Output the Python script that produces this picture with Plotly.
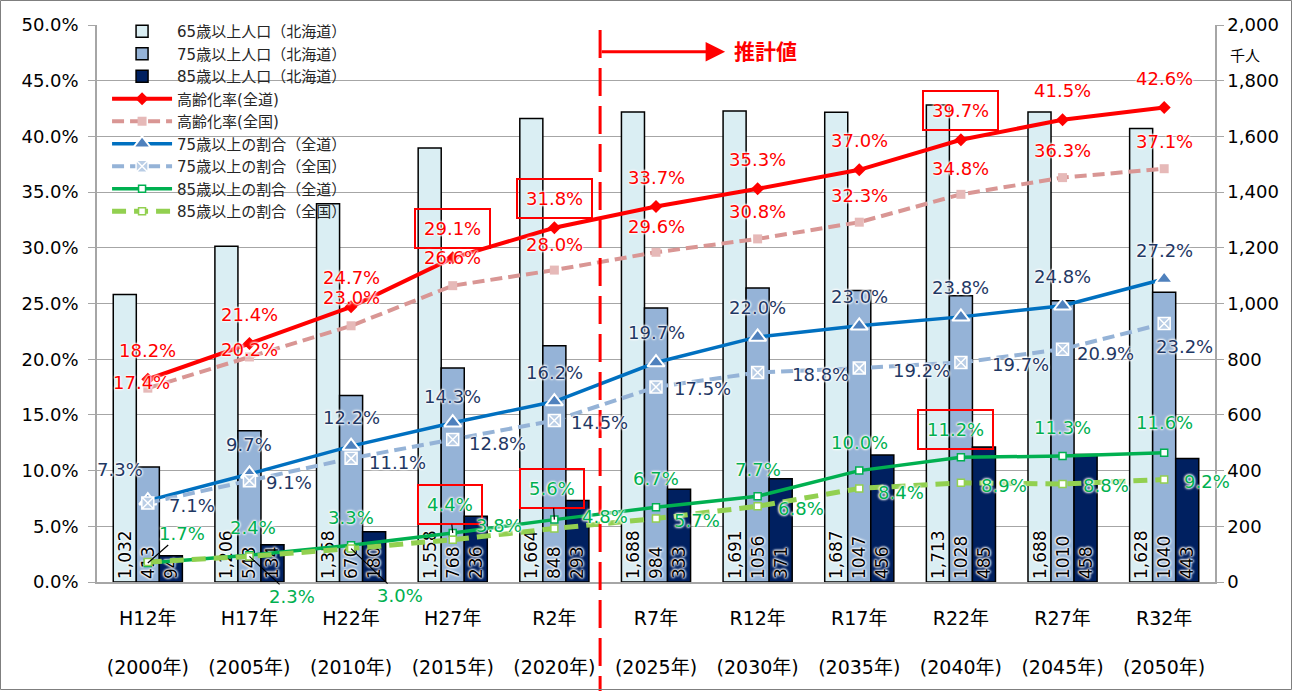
import plotly.graph_objects as go

# ---------------- data ----------------
categories = ["H12年", "H17年", "H22年", "H27年", "R2年", "R7年", "R12年", "R17年", "R22年", "R27年", "R32年"]
years = ["(2000年)", "(2005年)", "(2010年)", "(2015年)", "(2020年)", "(2025年)", "(2030年)",
         "(2035年)", "(2040年)", "(2045年)", "(2050年)"]

pop65 = [1032, 1206, 1358, 1558, 1664, 1688, 1691, 1687, 1713, 1688, 1628]
pop75 = [413, 543, 670, 768, 848, 984, 1056, 1047, 1028, 1010, 1040]
pop85 = [94, 134, 180, 236, 293, 333, 371, 456, 485, 458, 443]

aging_hok = [18.2, 21.4, 24.7, 29.1, 31.8, 33.7, 35.3, 37.0, 39.7, 41.5, 42.6]
aging_nat = [17.4, 20.2, 23.0, 26.6, 28.0, 29.6, 30.8, 32.3, 34.8, 36.3, 37.1]
r75_hok = [7.3, 9.7, 12.2, 14.3, 16.2, 19.7, 22.0, 23.0, 23.8, 24.8, 27.2]
r75_nat = [7.1, 9.1, 11.1, 12.8, 14.5, 17.5, 18.8, 19.2, 19.7, 20.9, 23.2]
r85_hok = [1.7, 2.4, 3.3, 4.4, 5.6, 6.7, 7.7, 10.0, 11.2, 11.3, 11.6]
r85_nat = [1.8, 2.3, 3.0, 3.8, 4.8, 5.7, 6.8, 8.4, 8.9, 8.8, 9.2]

# ---------------- label styling (pixel offsets) ----------------
off_aging_hok = [(0, 29)] * 11
off_aging_nat = [(-6, 6), (0, 7), (0, 28), (0, 28), (0, 26), (0, 26), (0, 27), (0, 27), (0, 26), (0, 27), (0, 27)]
off_r75_hok = [(-28, 31), (0, 29), (0, 29), (0, 26), (0, 29), (0, 30), (0, 29), (0, 29), (0, 29), (0, 29), (0, 28)]
off_r75_nat = [(44, -3), (40, -2), (46, -4), (45, -4), (45, -2), (46, -1), (63, -2), (62, -2), (60, -2), (43, -4), (20, -23)]
off_r85_hok = [(34, 30), (4, 28), (0, 28), (-3, 28), (-2, 31), (0, 29), (0, 27), (0, 28), (-5, 28), (0, 29), (0, 30)]
off_r85_nat = [None, (43, -40), (49, -47), (46, 14), (51, 12), (41, -2), (43, -2), (42, -4), (43, -3), (43, -2), (43, -2)]
leader_r85_hok = [0, 3, 4]
leader_r85_nat = [1, 2]
box_aging_hok = [3, 4, 8]
box_r85_hok = [3, 4, 8]

C_RED = "#FF0000"
C_PINK = "#D99694"
C_BLUE = "#0070C0"
C_LBLUE = "#95B3D7"
C_GREEN = "#00B050"
C_LGREEN = "#92D050"
C_NAVY = "#1F3864"
C_LGREEN_TXT = "#00B050"

FONT = "DejaVu Sans, Noto Sans CJK JP, sans-serif"
GLOW = "0px 0px 2px white, 0px 0px 2px white, 0px 0px 3px white, 0px 0px 3px white"

x = list(range(len(categories)))

fig = go.Figure()

bar_common = dict(textposition="inside", insidetextanchor="start", textangle=-90,
                  constraintext="none", yaxis="y",
                  insidetextfont=dict(color="black", size=17, family=FONT, shadow=GLOW),
                  marker_line=dict(color="black", width=1.5))
fig.add_trace(go.Bar(x=x, y=pop65, name="65歳以上人口（北海道）", marker_color="#DAEEF3",
                     text=[f"{v:,}" for v in pop65], **bar_common))
fig.add_trace(go.Bar(x=x, y=pop75, name="75歳以上人口（北海道）", marker_color="#95B3D7",
                     text=[str(v) for v in pop75], **bar_common))
fig.add_trace(go.Bar(x=x, y=pop85, name="85歳以上人口（北海道）", marker_color="#002060",
                     text=[str(v) for v in pop85], **bar_common))

fig.add_trace(go.Scatter(x=x, y=aging_hok, name="高齢化率(全道)", mode="lines+markers", yaxis="y2",
                         line=dict(color=C_RED, width=4),
                         marker=dict(symbol="diamond", size=10, color=C_RED)))
fig.add_trace(go.Scatter(x=x, y=aging_nat, name="高齢化率(全国)", mode="lines+markers", yaxis="y2",
                         line=dict(color=C_PINK, width=4, dash="12px,6px"),
                         marker=dict(symbol="square", size=9, color="#E6B9B8")))
fig.add_trace(go.Scatter(x=x, y=r75_hok, name="75歳以上の割合（全道）", mode="lines+markers", yaxis="y2",
                         line=dict(color=C_BLUE, width=3.5),
                         marker=dict(symbol="triangle-up", size=15, color="#4F81BD",
                                     line=dict(color="white", width=2))))
fig.add_trace(go.Scatter(x=x, y=r75_nat, name="75歳以上の割合（全国）", mode="lines+markers", yaxis="y2",
                         line=dict(color=C_LBLUE, width=4, dash="12px,6px"),
                         marker=dict(symbol="square-x", size=12, color="#B9CDE5",
                                     line=dict(color="white", width=1.5))))
fig.add_trace(go.Scatter(x=x, y=r85_hok, name="85歳以上の割合（全道）", mode="lines+markers", yaxis="y2",
                         line=dict(color=C_GREEN, width=3.5),
                         marker=dict(symbol="square", size=7, color="white",
                                     line=dict(color=C_GREEN, width=1.5))))
fig.add_trace(go.Scatter(x=x, y=r85_nat, name="85歳以上の割合（全国）", mode="lines+markers", yaxis="y2",
                         line=dict(color=C_LGREEN, width=5, dash="14px,8px"),
                         marker=dict(symbol="square", size=7, color="white",
                                     line=dict(color=C_LGREEN, width=1.5))))

annotations = []


def add_labels(values, offsets, color, boxes=(), leaders=()):
    for i, v in enumerate(values):
        off = offsets[i]
        if off is None:
            continue
        dx, dy = off
        a = dict(x=x[i], y=v, xref="x", yref="y2", text=f"{v:.1f}%",
                 xanchor="center", yanchor="middle",
                 font=dict(color=color, size=18, family=FONT, shadow=GLOW))
        if i in leaders:
            a.update(showarrow=True, ax=dx, ay=-dy, axref="pixel", ayref="pixel",
                     arrowhead=0, arrowwidth=1.2, arrowcolor="black", standoff=0)
        else:
            a.update(showarrow=False, xshift=dx, yshift=dy)
        if i in boxes:
            a.update(bordercolor=C_RED, borderwidth=2, borderpad=8)
        annotations.append(a)


add_labels(aging_hok, off_aging_hok, C_RED, boxes=box_aging_hok)
add_labels(aging_nat, off_aging_nat, C_RED)
add_labels(r75_hok, off_r75_hok, C_NAVY)
add_labels(r75_nat, off_r75_nat, C_NAVY)
add_labels(r85_hok, off_r85_hok, C_LGREEN_TXT, boxes=box_r85_hok, leaders=leader_r85_hok)
add_labels(r85_nat, off_r85_nat, C_LGREEN_TXT, leaders=leader_r85_nat)

# 推計値 arrow and text
ARROW_Y = 47.6
annotations.append(dict(x=5.68, y=ARROW_Y, xref="x", yref="y2", ax=4.45, ay=ARROW_Y,
                        axref="x", ayref="y2", text="", showarrow=True,
                        arrowhead=2, arrowsize=1.3, arrowwidth=3, arrowcolor=C_RED, standoff=0))
annotations.append(dict(x=6.08, y=ARROW_Y, xref="x", yref="y2", text="<b>推計値</b>",
                        showarrow=False, font=dict(color=C_RED, size=21, family=FONT)))
annotations.append(dict(x=1.027, y=0.945, xref="paper", yref="paper", text="千人",
                        xanchor="center", yanchor="middle",
                        showarrow=False, font=dict(color="black", size=15, family=FONT)))

W, H = 1293, 691
ML, MR, MT, MB = 97, 78, 25, 109
PW, PH = W - ML - MR, H - MT - MB

shapes = [
    dict(type="line", xref="x", yref="paper", x0=4.45, x1=4.45, y0=1 - 5 / PH, y1=-(MB + 5) / PH,
         line=dict(color=C_RED, width=3, dash="28px,10px")),
    dict(type="rect", xref="paper", yref="paper", x0=-(ML - 0.5) / PW, x1=1 + (MR - 1.5) / PW,
         y0=-(MB - 1.5) / PH, y1=1 + (MT - 0.5) / PH, line=dict(color="#7F7F7F", width=1)),
]

fig.update_layout(
    width=W, height=H,
    margin=dict(l=ML, r=MR, t=MT, b=MB, pad=0),
    paper_bgcolor="white", plot_bgcolor="white",
    font=dict(family=FONT, color="black"),
    barmode="group", bargap=0.32, bargroupgap=0,
    showlegend=True,
    legend=dict(x=0.009, y=1.018, xanchor="left", yanchor="top", bgcolor="rgba(0,0,0,0)",
                font=dict(size=15, family=FONT, color="#262626"), tracegroupgap=0,
                itemwidth=60),
    xaxis=dict(range=[-0.5, 10.5], tickmode="array", tickvals=x,
               ticktext=[f"{c}<br><br>{y}" for c, y in zip(categories, years)],
               tickfont=dict(size=19, family=FONT, color="black"),
               ticks="outside", ticklen=18, tickcolor="rgba(0,0,0,0)",
               showline=True, linecolor="#A6A6A6", linewidth=2, showgrid=False, zeroline=False),
    yaxis=dict(side="right", range=[0, 2000], dtick=200, tickformat=",",
               tickfont=dict(size=18, family=FONT, color="black"),
               ticks="outside", ticklen=7, tickcolor="#A6A6A6",
               showline=True, linecolor="#A6A6A6", linewidth=1.5,
               showgrid=True, gridcolor="#A6A6A6", gridwidth=1, zeroline=False),
    yaxis2=dict(side="left", overlaying="y", range=[0, 50], dtick=5, tickformat=".1f", ticksuffix="%",
                tickfont=dict(size=18, family=FONT, color="black"),
                ticks="outside", ticklen=7, tickcolor="#A6A6A6", ticklabelstandoff=6,
                showline=True, linecolor="#A6A6A6", linewidth=1.5,
                showgrid=False, zeroline=False),
    annotations=annotations,
    shapes=shapes,
)

fig.write_html("out.html")
